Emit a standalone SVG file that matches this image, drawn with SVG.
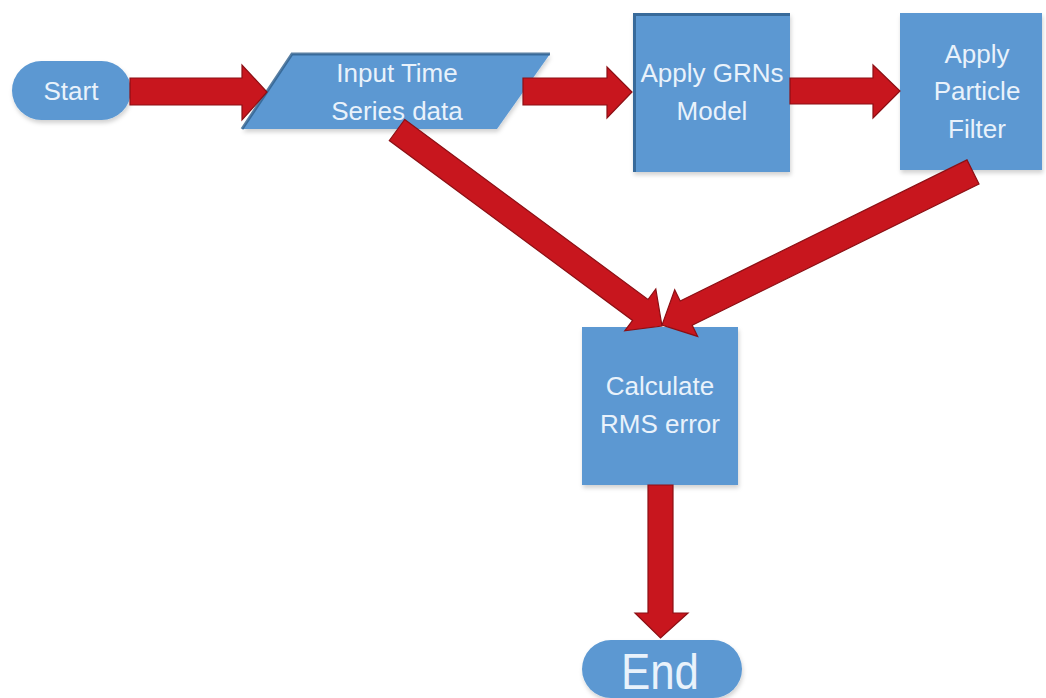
<svg xmlns="http://www.w3.org/2000/svg" width="1046" height="698" viewBox="0 0 1046 698">
<defs>
<filter id="sh" x="-10%" y="-10%" width="130%" height="130%">
<feDropShadow dx="1" dy="3" stdDeviation="2" flood-color="#000" flood-opacity="0.18"/>
</filter>
<style>
.box{fill:#5b98d2;filter:url(#sh)}
.edge{fill:none;stroke:#2f5f8c;stroke-width:3;opacity:0.8}
.lbl{font-family:"Liberation Sans",Arial,sans-serif;font-size:26px;fill:#e9f2fb;text-anchor:middle}
.big{font-size:50px}
.arr{fill:#c8161e;stroke:#8c0f14;stroke-width:1.2;stroke-linejoin:miter}
</style>
</defs>
<rect width="1046" height="698" fill="#ffffff"/>

<g id="start">
<rect class="box" x="12" y="61" width="119" height="59" rx="29.5"/>
<text class="lbl" x="71" y="100">Start</text>
</g>

<g id="input">
<polygon class="box" points="292,54 550,54 497,129 242,129"/>
<path class="edge" d="M242,129 L292,54 L550,54"/>
<text class="lbl" x="397" y="82">Input Time</text>
<text class="lbl" x="397" y="120">Series data</text>
</g>

<g id="grns">
<rect class="box" x="633" y="13" width="157" height="159"/>
<path class="edge" d="M634.5,172 L634.5,14.5 L790,14.5"/>
<text class="lbl" x="712" y="82">Apply GRNs</text>
<text class="lbl" x="712" y="120">Model</text>
</g>

<g id="particle">
<rect class="box" x="900" y="13" width="142" height="157"/>
<text class="lbl" x="977" y="63">Apply</text>
<text class="lbl" x="977" y="100">Particle</text>
<text class="lbl" x="977" y="138">Filter</text>
</g>

<g id="calc">
<rect class="box" x="582" y="327" width="156" height="158"/>
<text class="lbl" x="660" y="395">Calculate</text>
<text class="lbl" x="660" y="433">RMS error</text>
</g>

<g id="end">
<rect class="box" x="582" y="640" width="160" height="58" rx="29"/>
<text class="lbl big" x="660" y="689" textLength="78" lengthAdjust="spacingAndGlyphs">End</text>
</g>

<g id="connectors">
<polygon class="arr" points="130,78 242,78 242,65 267,92 242,120 242,105 130,105"/>
<polygon class="arr" points="523,78 607,78 607,67 632,92 607,118 607,105 523,105"/>
<polygon class="arr" points="790,78 873,78 873,65 900,91 873,118 873,104 790,104"/>
<polygon class="arr" points="404.7,119.5 648,299.5 655.8,289 662,326 624.8,330.8 632.6,320.4 389.3,140.5"/>
<polygon class="arr" points="967,159.9 680.2,301 674.7,289.8 662,325 697.7,336.4 692.2,325.2 979,184.1"/>
<polygon class="arr" points="648,485 673,485 673,613 688,613 660.5,638 635,613 648,613"/>
</g>
</svg>
